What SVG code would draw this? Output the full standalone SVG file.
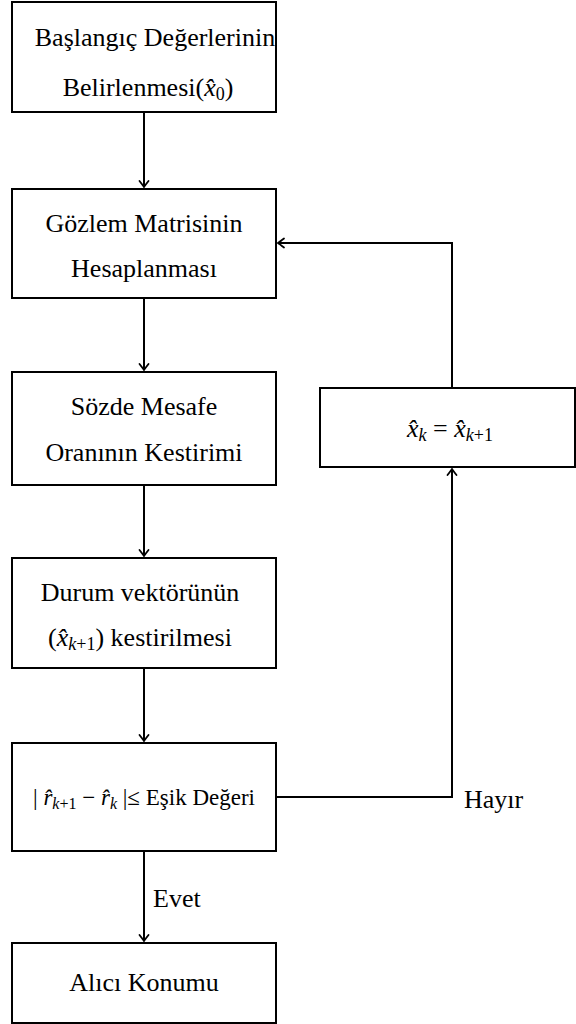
<svg xmlns="http://www.w3.org/2000/svg" width="576" height="1024" viewBox="0 0 576 1024">
<style>
.box{fill:#fff;stroke:#000;stroke-width:2}
.t{font-family:"Liberation Serif","Times New Roman",serif;font-size:26px;fill:#000;text-anchor:middle}
.m{font-style:italic}
.s{font-size:18px}
.c{fill:none;stroke:#000;stroke-width:2}
</style>
<defs>
<marker id="ah" viewBox="-8 -6 10 12" markerWidth="10" markerHeight="12" refX="0" refY="0" orient="auto" markerUnits="userSpaceOnUse">
<path d="M-6,-4.5 Q-1.5,-1 0,0 Q-1.5,1 -6,4.5" fill="none" stroke="#000" stroke-width="1.8" stroke-linecap="round"/>
</marker>
</defs>
<g id="connectors">
<line class="c" x1="144" y1="112" x2="144" y2="187" marker-end="url(#ah)"/>
<line class="c" x1="144" y1="298" x2="144" y2="370" marker-end="url(#ah)"/>
<line class="c" x1="144" y1="485" x2="144" y2="556" marker-end="url(#ah)"/>
<line class="c" x1="144" y1="668" x2="144" y2="741" marker-end="url(#ah)"/>
<line class="c" x1="144" y1="851" x2="144" y2="941" marker-end="url(#ah)"/>
<polyline class="c" points="276,797 452,797 452,469" marker-end="url(#ah)"/>
<polyline class="c" points="452,388 452,243 278,243" marker-end="url(#ah)"/>
<text class="t" x="153" y="907" style="text-anchor:start">Evet</text>
<text class="t" x="464" y="808" style="text-anchor:start">Hayır</text>
</g>
<g id="n1">
<rect class="box" x="12" y="2" width="264" height="110"/>
<text class="t" x="155" y="46">Başlangıç Değerlerinin</text>
<text class="t" x="148" y="96">Belirlenmesi(<tspan class="m">x̂</tspan><tspan class="s" dy="4">0</tspan><tspan dy="-4">)</tspan></text>
</g>
<g id="n2">
<rect class="box" x="12" y="189" width="264" height="109"/>
<text class="t" x="144" y="232">Gözlem Matrisinin</text>
<text class="t" x="144" y="277">Hesaplanması</text>
</g>
<g id="n3">
<rect class="box" x="12" y="372" width="264" height="113"/>
<text class="t" x="144" y="415">Sözde Mesafe</text>
<text class="t" x="144" y="461">Oranının Kestirimi</text>
</g>
<g id="n4">
<rect class="box" x="12" y="558" width="264" height="110"/>
<text class="t" x="140" y="601">Durum vektörünün</text>
<text class="t" x="140" y="646">(<tspan class="m">x̂</tspan><tspan class="s m" dy="4">k</tspan><tspan class="s">+1</tspan><tspan dy="-4">) kestirilmesi</tspan></text>
</g>
<g id="n5">
<rect class="box" x="12" y="743" width="264" height="108"/>
<text class="t" x="144" y="805" style="font-size:23px">| <tspan class="m">r̂</tspan><tspan dy="4" style="font-size:16px" class="m">k</tspan><tspan style="font-size:16px">+1</tspan><tspan dy="-4"> − </tspan><tspan class="m">r̂</tspan><tspan dy="4" style="font-size:16px" class="m">k</tspan><tspan dy="-4"> |≤ Eşik Değeri</tspan></text>
</g>
<g id="n6">
<rect class="box" x="12" y="943" width="264" height="80"/>
<text class="t" x="144" y="991">Alıcı Konumu</text>
</g>
<g id="n7">
<rect class="box" x="320" y="388" width="255" height="79"/>
<text class="t" x="450" y="437"><tspan class="m">x̂</tspan><tspan class="s m" dy="4">k</tspan><tspan dy="-4"> = </tspan><tspan class="m">x̂</tspan><tspan class="s m" dy="4">k</tspan><tspan class="s">+1</tspan></text>
</g>
</svg>
